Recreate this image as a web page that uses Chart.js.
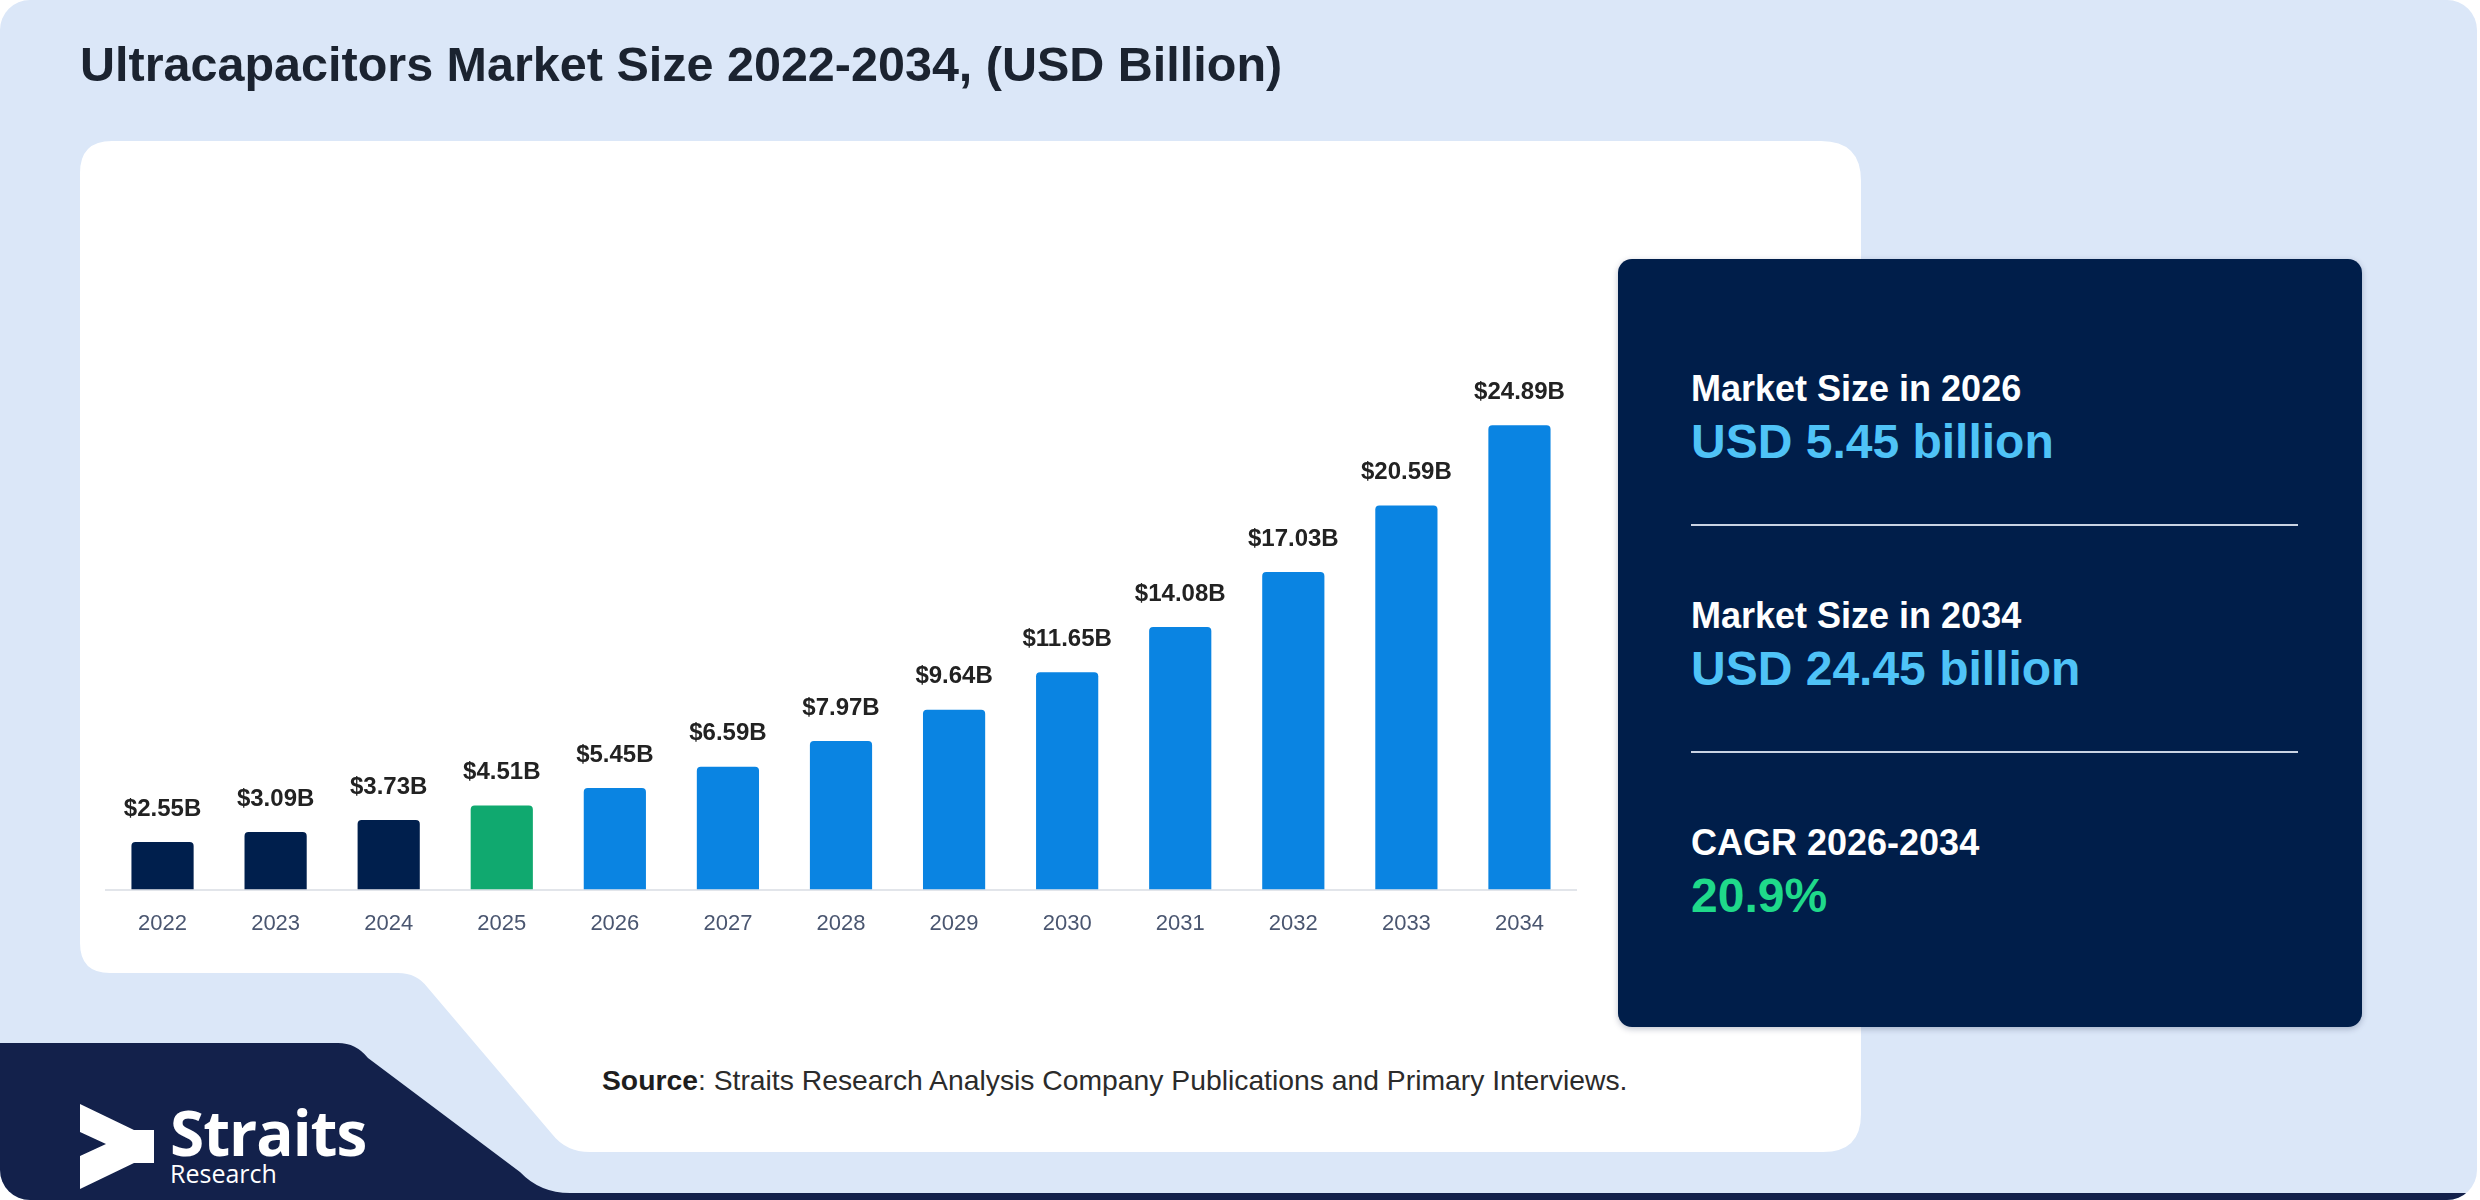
<!DOCTYPE html>
<html>
<head>
<meta charset="utf-8">
<script src="https://cdn.jsdelivr.net/npm/chart.js@4.4.1/dist/chart.umd.min.js"></script>
<style>
  html, body { margin: 0; padding: 0; background: #ffffff; }
  body { width: 2480px; height: 1200px; position: relative; overflow: hidden; font-family: "Liberation Sans", Arial, sans-serif; }
  #card { position: absolute; left: 0; top: 0; width: 2477px; height: 1200px; border-radius: 30px; overflow: hidden; background: #dbe7f8; }
  #shapes { position: absolute; left: 0; top: 0; }
  #title { position: absolute; left: 80px; top: 40px; font-size: 48.5px; font-weight: bold; color: #1b2330; line-height: 48px; white-space: nowrap; }
  #chartWrap { position: absolute; left: 96px; top: 300px; width: 1490px; height: 680px; }
  #source { position: absolute; left: 602px; top: 1066px; font-size: 28.3px; line-height: 28px; color: #2b2b2b; white-space: nowrap; }
  #source b { color: #1e1e1e; }
  #panel { position: absolute; left: 1618px; top: 259px; width: 744px; height: 768px; background: #001e4a; border-radius: 14px; box-shadow: 0 2px 6px rgba(0,20,60,0.25); }
  .lbl { position: absolute; left: 73px; font-size: 36px; font-weight: bold; color: #ffffff; line-height: 36px; white-space: nowrap; }
  .val { position: absolute; left: 73px; font-size: 48px; font-weight: bold; color: #4fc3f7; line-height: 48px; white-space: nowrap; }
  .val.green { color: #1fd98a; }
  .rule { position: absolute; left: 73px; width: 607px; height: 2px; background: #c9d3e3; }
  #logoTxt { position: absolute; left: 170px; top: 1101px; color: #ffffff; font-family: "Open Sans", "Noto Sans", sans-serif; }
  #logoTxt .big { font-size: 62px; font-weight: bold; line-height: 62px; letter-spacing: -1px; }
  #logoTxt .small { font-size: 25px; line-height: 25px; margin-top: -2px; }
</style>
</head>
<body>
<div id="card">
  <svg id="shapes" width="2480" height="1200" xmlns="http://www.w3.org/2000/svg">
    <!-- white chart panel with the cut corner -->
    <path fill="#ffffff" d="M 112 141 H 1821 Q 1861 141 1861 181 V 1114 Q 1861 1152 1823 1152 H 590 Q 566 1152 552 1134 L 428 988 Q 417 973 398 973 H 110 Q 80 973 80 943 V 173 Q 80 141 112 141 Z"/>
    <!-- navy logo band -->
    <path fill="#13214b" d="M 0 1043 H 338 Q 356 1043 368 1058 L 520 1172 Q 540 1193 570 1193 H 2480 V 1200 H 0 Z"/>
    <!-- logo mark -->
    <path fill="#ffffff" d="M 80 1104 L 134 1130 H 154 V 1163 H 134 L 80 1189 V 1156 L 106 1144 L 80 1132 Z"/>
  </svg>

  <div id="title">Ultracapacitors Market Size 2022-2034, (USD Billion)</div>

  <div id="chartWrap"><canvas id="myChart" width="1490" height="680"></canvas></div>

  <div id="source"><b>Source</b>: Straits Research Analysis Company Publications and Primary Interviews.</div>

  <div id="logoTxt"><div class="big">Straits</div><div class="small">Research</div></div>
</div>

<div id="panel">
  <div class="lbl" style="top:112px">Market Size in 2026</div>
  <div class="val" style="top:159px">USD 5.45 billion</div>
  <div class="rule" style="top:265px"></div>
  <div class="lbl" style="top:339px">Market Size in 2034</div>
  <div class="val" style="top:386px">USD 24.45 billion</div>
  <div class="rule" style="top:492px"></div>
  <div class="lbl" style="top:566px">CAGR 2026-2034</div>
  <div class="val green" style="top:613px">20.9%</div>
</div>

<script>
// 데이터
const years = ["2022", "2023", "2024", "2025", "2026", "2027", "2028", "2029", "2030", "2031", "2032", "2033", "2034"];

const marketSize = [2.55, 3.09, 3.73, 4.51, 5.45, 6.59, 7.97, 9.64, 11.65, 14.08, 17.03, 20.59, 24.89];

const barColors = [
  "#001f4d", "#001f4d", "#001f4d",
  "#10a96f",
  "#0a84e2", "#0a84e2", "#0a84e2", "#0a84e2", "#0a84e2",
  "#0a84e2", "#0a84e2", "#0a84e2", "#0a84e2"
];

// 막대 위 값 표시
const valueLabels = {
  id: "valueLabels",
  afterDatasetsDraw(chart) {
    const ctx = chart.ctx;
    const meta = chart.getDatasetMeta(0);
    ctx.save();
    ctx.font = 'bold 24px "Liberation Sans", Arial, sans-serif';
    ctx.fillStyle = "#222222";
    ctx.textAlign = "center";
    ctx.textBaseline = "middle";
    for (let i = 0; i < meta.data.length; i++) {
      let bar = meta.data[i];
      ctx.fillText("$" + marketSize[i].toFixed(2) + "B", bar.x, bar.y - 33);
    }
    ctx.restore();
  }
};

const ctx = document.getElementById("myChart");

new Chart(ctx, {
  type: "bar",
  data: {
    labels: years,
    datasets: [{
      data: marketSize,
      backgroundColor: barColors,
      borderRadius: 4,
      barPercentage: 0.55,
      categoryPercentage: 1
    }]
  },
  options: {
    responsive: false,
    animation: false,
    devicePixelRatio: 1,
    layout: { padding: { left: 10, right: 10, top: 30, bottom: 22 } },
    plugins: {
      legend: { display: false },
      tooltip: { enabled: false }
    },
    scales: {
      x: {
        grid: { display: false, drawTicks: false },
        border: { display: true, color: "#e2e5ea", width: 2 },
        ticks: {
          color: "#4a5670",
          padding: 21,
          font: { family: '"Liberation Sans", Arial, sans-serif', size: 22, lineHeight: 1.2 }
        }
      },
      y: {
        display: false,
        min: 0,
        max: 30
      }
    }
  },
  plugins: [valueLabels]
});
</script>
</body>
</html>
